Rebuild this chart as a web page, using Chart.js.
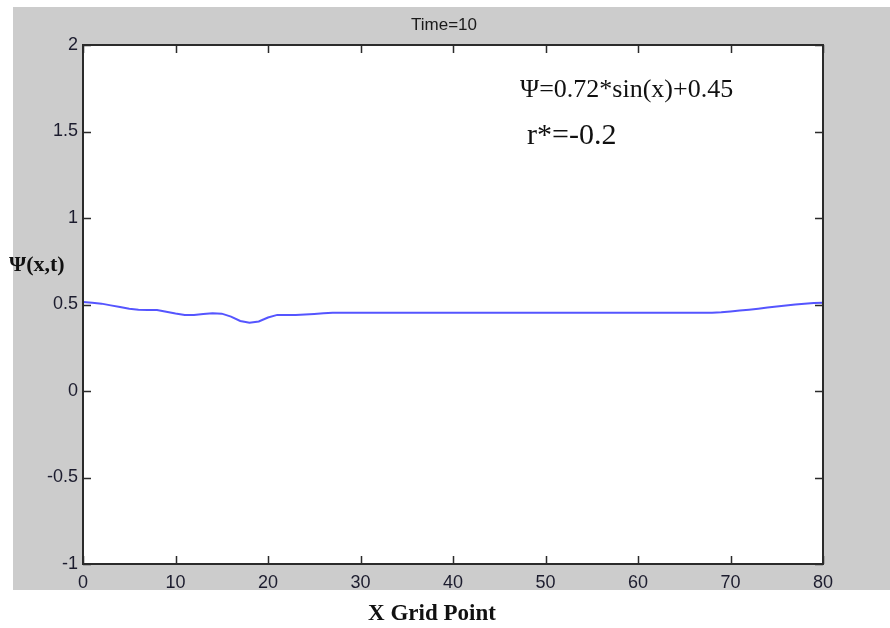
<!DOCTYPE html>
<html lang="en">
<head>
    <meta charset="UTF-8">
    <title>Time=10</title>
    <script src="https://cdn.jsdelivr.net/npm/chart.js"></script>
    <style>
        body { margin:0; background:#fff; }
    </style>
</head>
<body>
    <canvas id="psiChart" width="890" height="628"></canvas>
<script>
// grid points 0..80 and the wave function at Time=10
const gridPoints = Array.from({length: 81}, (_, i) => i);
const psiValues = [
    0.515, 0.51, 0.505, 0.495, 0.485, 0.475, 0.47, 0.468, 0.468, 0.458,
    0.448, 0.44, 0.44, 0.445, 0.449, 0.447, 0.43, 0.405, 0.395, 0.402,
    0.425, 0.44, 0.44, 0.44, 0.442, 0.445, 0.449, 0.452, 0.453, 0.453,
    0.453, 0.453, 0.453, 0.453, 0.453, 0.453, 0.453, 0.453, 0.453, 0.453,
    0.453, 0.453, 0.453, 0.453, 0.453, 0.453, 0.453, 0.453, 0.453, 0.453,
    0.453, 0.453, 0.453, 0.453, 0.453, 0.453, 0.453, 0.453, 0.453, 0.453,
    0.453, 0.453, 0.453, 0.453, 0.453, 0.453, 0.453, 0.453, 0.453, 0.455,
    0.46, 0.465, 0.47, 0.476, 0.482, 0.488, 0.494, 0.5, 0.505, 0.508,
    0.51
];
const xTicks = [0, 10, 20, 30, 40, 50, 60, 70, 80];
const yTicks = [-1, -0.5, 0, 0.5, 1, 1.5, 2];

const titleText = 'Time=10';
const xTitle = 'X Grid Point';
const yTitle = 'Ψ(x,t)';
const noteLines = ['Ψ=0.72*sin(x)+0.45', 'r*=-0.2'];

const points = gridPoints.map((x, i) => ({x: x, y: psiValues[i]}));

// gray figure panel, white axes, box with inward ticks, texts
const matlabFrame = {
    id: 'matlabFrame',
    beforeDraw(chart) {
        const c = chart.ctx, a = chart.chartArea;
        c.save();
        c.fillStyle = '#fff';
        c.fillRect(0, 0, chart.width, chart.height);
        c.fillStyle = '#cccccc';
        c.fillRect(13, 7, chart.width - 13, 583);
        c.fillStyle = '#fff';
        c.fillRect(a.left, a.top, a.right - a.left, a.bottom - a.top);
        c.restore();
    },
    afterDraw(chart) {
        const c = chart.ctx, a = chart.chartArea;
        const xs = chart.scales.x, ys = chart.scales.y;
        c.save();
        c.strokeStyle = '#2b2b2b';
        c.lineWidth = 2;
        c.strokeRect(a.left, a.top, a.right - a.left, a.bottom - a.top);
        c.lineWidth = 1.5;
        c.beginPath();
        xTicks.forEach(v => {
            const px = Math.round(xs.getPixelForValue(v)) + 0.5;
            c.moveTo(px, a.bottom); c.lineTo(px, a.bottom - 8);
            c.moveTo(px, a.top); c.lineTo(px, a.top + 8);
        });
        yTicks.forEach(v => {
            const py = Math.round(ys.getPixelForValue(v)) + 0.5;
            c.moveTo(a.left, py); c.lineTo(a.left + 8, py);
            c.moveTo(a.right, py); c.lineTo(a.right - 8, py);
        });
        c.stroke();

        c.fillStyle = '#1a1a1a';
        c.textAlign = 'center';
        c.textBaseline = 'alphabetic';
        c.font = '17px "Liberation Sans", Arial, sans-serif';
        c.fillText(titleText, 444, 30);

        c.fillStyle = '#111';
        c.font = 'bold 23px "Liberation Serif", "Times New Roman", serif';
        c.fillText(xTitle, 432, 620);

        c.textAlign = 'left';
        c.font = 'bold 22px "Liberation Serif", "Times New Roman", serif';
        c.fillText(yTitle, 9, 271);

        c.font = '26px "Liberation Serif", "Times New Roman", serif';
        c.fillText(noteLines[0], 520, 97);
        c.font = '30px "Liberation Serif", "Times New Roman", serif';
        c.fillText(noteLines[1], 527, 144);
        c.restore();
    }
};

new Chart(document.getElementById('psiChart'), {
    type: 'line',
    data: {
        datasets: [{
            data: points,
            borderColor: '#5555ff',
            borderWidth: 2,
            pointRadius: 0,
            tension: 0,
            fill: false
        }]
    },
    options: {
        responsive: false,
        animation: false,
        devicePixelRatio: 1,
        layout: { padding: { left: 13, top: 45, right: 67, bottom: 34 } },
        plugins: { legend: { display: false }, tooltip: { enabled: false } },
        scales: {
            x: {
                type: 'linear',
                min: 0, max: 80,
                afterFit: s => { s.height = 30; },
                afterBuildTicks: s => { s.ticks = xTicks.map(v => ({value: v})); },
                grid: { display: false, drawTicks: false },
                border: { display: false },
                ticks: {
                    padding: 8,
                    color: '#1c1c2e',
                    font: { family: '"Liberation Sans", Arial, sans-serif', size: 18 },
                    callback: v => String(v)
                }
            },
            y: {
                min: -1, max: 2,
                afterFit: s => { s.width = 70; },
                afterBuildTicks: s => { s.ticks = yTicks.map(v => ({value: v})); },
                grid: { display: false, drawTicks: false },
                border: { display: false },
                ticks: {
                    padding: 5,
                    color: '#1c1c2e',
                    font: { family: '"Liberation Sans", Arial, sans-serif', size: 18 },
                    callback: v => String(v)
                }
            }
        }
    },
    plugins: [matlabFrame]
});
</script>
</body>
</html>
